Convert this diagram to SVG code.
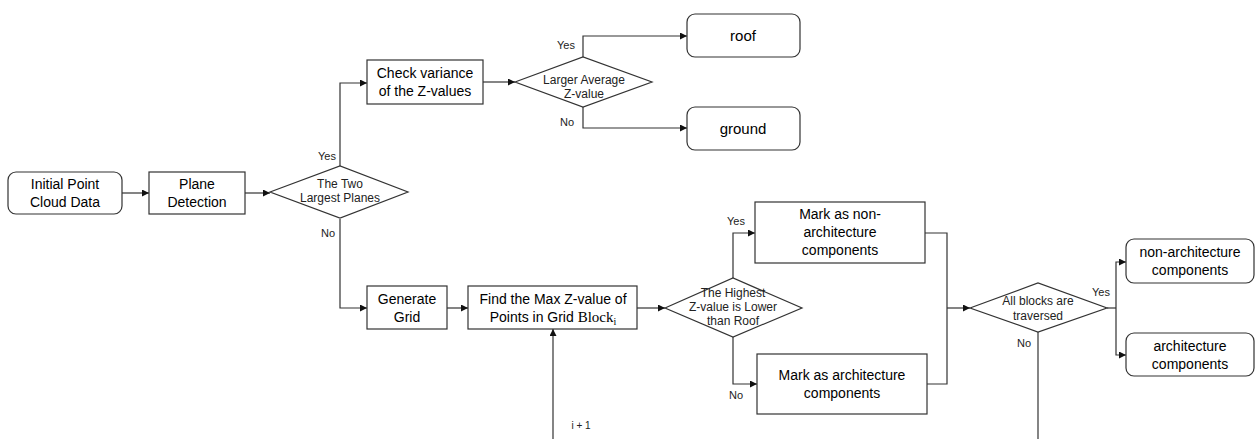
<svg xmlns="http://www.w3.org/2000/svg" width="1255" height="439" viewBox="0 0 1255 439">
<style>
.n{fill:#fff;stroke:#333;stroke-width:1.2}
.t{font-family:"Liberation Sans",Arial,sans-serif;font-size:14px;fill:#000;text-anchor:middle}
.d{font-family:"Liberation Sans",Arial,sans-serif;font-size:12px;fill:#222;text-anchor:middle}
.l{font-family:"Liberation Sans",Arial,sans-serif;font-size:11px;fill:#222;text-anchor:middle}
.c{fill:none;stroke:#333;stroke-width:1.2;marker-end:url(#a)}
.p{fill:none;stroke:#333;stroke-width:1.2}
</style>
<defs>
<marker id="a" viewBox="0 0 10 10" refX="10" refY="5" markerWidth="7" markerHeight="7" markerUnits="userSpaceOnUse" orient="auto">
<path d="M0,0L10,5L0,10z" fill="#111"/>
</marker>
</defs>
<g id="connectors">
<path class="c" d="M122,193H149"/>
<path class="c" d="M245,193H270"/>
<path class="c" d="M340,166V83H367"/>
<path class="c" d="M340,219V308H367"/>
<path class="c" d="M483,82H515"/>
<path class="c" d="M583,57V36H687"/>
<path class="c" d="M583,107V128H687"/>
<path class="c" d="M447,308H468"/>
<path class="c" d="M637,308H665"/>
<path class="c" d="M553,439V329"/>
<path class="c" d="M733,278V233H755"/>
<path class="c" d="M733,337V384H757"/>
<path class="p" d="M925,233H947V384H927"/>
<path class="c" d="M947,308H970"/>
<path class="p" d="M1107,308H1116"/>
<path class="c" d="M1116,308V262H1126"/>
<path class="c" d="M1116,308V355H1126"/>
<path class="p" d="M1038,332V439"/>
<text class="l" x="327" y="160">Yes</text>
<text class="l" x="328" y="237">No</text>
<text class="l" x="566" y="49">Yes</text>
<text class="l" x="567" y="126">No</text>
<text class="l" x="736" y="225">Yes</text>
<text class="l" x="736" y="399">No</text>
<text class="l" x="1101" y="296">Yes</text>
<text class="l" x="1024" y="347">No</text>
<text class="l" x="581" y="429" style="font-size:10px">i + 1</text>
</g>
<g id="initial">
<rect class="n" x="8" y="172" width="114" height="42" rx="8"/>
<text class="t" x="65" y="189">Initial Point</text>
<text class="t" x="65" y="207">Cloud Data</text>
</g>
<g id="plane">
<rect class="n" x="149" y="172" width="96" height="42"/>
<text class="t" x="197" y="189">Plane</text>
<text class="t" x="197" y="207">Detection</text>
</g>
<g id="twoPlanes">
<path class="n" d="M270,192L340,166L408,192L340,218z"/>
<text class="d" x="340" y="188">The Two</text>
<text class="d" x="340" y="202">Largest Planes</text>
</g>
<g id="variance">
<rect class="n" x="367" y="60" width="116" height="44"/>
<text class="t" x="425" y="78">Check variance</text>
<text class="t" x="425" y="96">of the Z-values</text>
</g>
<g id="avgZ">
<path class="n" d="M515,82L583,57L652,82L583,107z"/>
<text class="d" x="584" y="84">Larger Average</text>
<text class="d" x="584" y="98">Z-value</text>
</g>
<g id="roof">
<rect class="n" x="687" y="14" width="113" height="43" rx="8"/>
<text class="t" x="743" y="41" style="font-size:15px">roof</text>
</g>
<g id="ground">
<rect class="n" x="687" y="107" width="113" height="43" rx="8"/>
<text class="t" x="743" y="134" style="font-size:15px">ground</text>
</g>
<g id="grid">
<rect class="n" x="367" y="286" width="80" height="43"/>
<text class="t" x="407" y="304">Generate</text>
<text class="t" x="407" y="322">Grid</text>
</g>
<g id="maxZ">
<rect class="n" x="468" y="286" width="169" height="43"/>
<text class="t" x="553" y="304">Find the Max Z-value of</text>
<text class="t" x="553" y="322">Points in Grid <tspan style="font-family:'Liberation Serif','Times New Roman',serif;font-size:15px">Block</tspan><tspan style="font-family:'Liberation Serif','Times New Roman',serif;font-size:10px" dy="3">i</tspan></text>
</g>
<g id="highest">
<path class="n" d="M665,308L733,278L802,308L733,337z"/>
<text class="d" x="733" y="297">The Highest</text>
<text class="d" x="733" y="311">Z-value is Lower</text>
<text class="d" x="733" y="325">than Roof</text>
</g>
<g id="markNon">
<rect class="n" x="755" y="202" width="170" height="61"/>
<text class="t" x="840" y="219">Mark as non-</text>
<text class="t" x="840" y="237">architecture</text>
<text class="t" x="840" y="255">components</text>
</g>
<g id="markArch">
<rect class="n" x="757" y="354" width="170" height="60"/>
<text class="t" x="842" y="380">Mark as architecture</text>
<text class="t" x="842" y="398">components</text>
</g>
<g id="traversed">
<path class="n" d="M970,308L1038,283L1107,308L1038,332z"/>
<text class="d" x="1038" y="305">All blocks are</text>
<text class="d" x="1038" y="320">traversed</text>
</g>
<g id="nonArch">
<rect class="n" x="1126" y="239" width="128" height="44" rx="8"/>
<text class="t" x="1190" y="257">non-architecture</text>
<text class="t" x="1190" y="275">components</text>
</g>
<g id="arch">
<rect class="n" x="1126" y="333" width="128" height="43" rx="8"/>
<text class="t" x="1190" y="351">architecture</text>
<text class="t" x="1190" y="369">components</text>
</g>
</svg>
